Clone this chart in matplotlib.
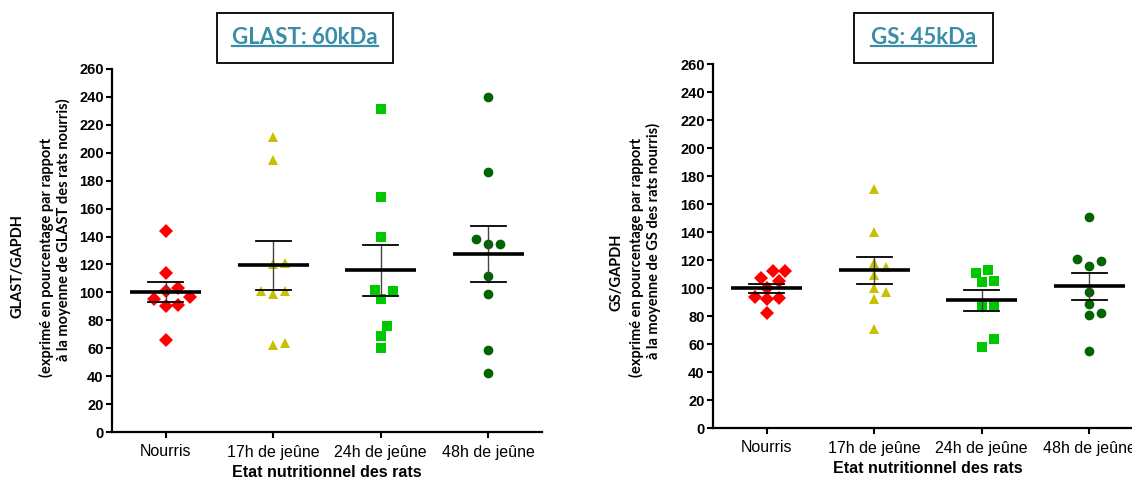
import numpy as np
import matplotlib
matplotlib.use("Agg")
import matplotlib.pyplot as plt
from matplotlib.lines import Line2D
from matplotlib.patches import Rectangle

# ---------------- data ----------------
categories = ["Nourris", "17h de jeûne", "24h de jeûne", "48h de jeûne"]

glast_nourris = [144, 114, 103, 101, 97, 95, 91, 90, 66]
glast_17h = [211, 195, 120, 121, 101, 99, 101, 62, 64]
glast_24h = [231, 168, 140, 102, 101, 95, 76, 69, 60]
glast_48h = [240, 186, 138, 135, 135, 112, 99, 59, 42]

gs_nourris = [112.5, 112, 107, 105, 100, 93, 92, 93.5, 82]
gs_17h = [171, 140, 118, 115, 109, 97, 100, 92, 71]
gs_24h = [111, 113, 104, 105, 87.5, 87.5, 63.5, 58]
gs_48h = [151, 119, 116, 121, 97, 82.5, 81, 88.5, 55]

yticks = list(range(0, 261, 20))

titles = ["GLAST: 60kDa", "GS: 45kDa"]
ylabel_main = ["GLAST/GAPDH", "GS/GAPDH"]
ylabel_line2 = "(exprimé en pourcentage par rapport"
ylabel_line3 = ["à la moyenne de GLAST des rats nourris)",
                "à la moyenne de GS des rats nourris)"]
xlabel = "Etat nutritionnel des rats"

# ---------------- style ----------------
colors = ["#FF0000", "#C8C000", "#00C800", "#006400"]
markers = ["D", "^", "s", "o"]
msizes = [7.4, 7.8, 6.8, 7.0]
title_color = "#3A8DA6"

W, H = 1132, 480
fig = plt.figure(figsize=(W / 100, H / 100), dpi=100)


def fx(px):
    return px / W


def fy(py):
    return 1 - py / H


def swarm(vals, px_per_x, px_per_y, diam=10.5, step=6.0):
    vals = np.asarray(vals, float)
    order = np.argsort(vals)
    placed = []
    offs = np.zeros(len(vals))
    cands = [0]
    for k in range(1, 12):
        cands += [k, -k]
    for idx in order:
        y = vals[idx] * px_per_y
        for k in cands:
            x = k * step
            if all((x - a) ** 2 + (y - b) ** 2 >= diam ** 2 for a, b in placed):
                break
        placed.append((x, y))
        offs[idx] = x / px_per_x
    return offs


def panel(rect_px, groups):
    x0, ytop, x1, ybot = rect_px
    ax = fig.add_axes([fx(x0), fy(ybot), fx(x1 - x0), (ybot - ytop) / H])
    ax.set_xlim(-0.5, 3.5)
    ax.set_ylim(0, 260)
    ppx = (x1 - x0) / 4.0
    ppy = (ybot - ytop) / 260.0
    for i, vals in enumerate(groups):
        v = np.asarray(vals, float)
        offs = swarm(v, ppx, ppy)
        ax.plot(i + offs, v, ls="none", marker=markers[i], color=colors[i],
                ms=msizes[i], mec=colors[i], mew=0, zorder=2, clip_on=False)
        m = v.mean()
        sem = v.std(ddof=1) / np.sqrt(len(v))
        ax.plot([i, i], [m - sem, m + sem], color="#444444", lw=1.0, zorder=3)
        for yy in (m - sem, m + sem):
            ax.plot([i - 0.165, i + 0.165], [yy, yy], color="black", lw=1.3, zorder=3)
        ax.plot([i - 0.33, i + 0.33], [m, m], color="black", lw=2.6, zorder=4,
                solid_capstyle="butt")
    for s in ("top", "right"):
        ax.spines[s].set_visible(False)
    for s in ("left", "bottom"):
        ax.spines[s].set_linewidth(1.6)
    ax.set_yticks(yticks)
    ax.set_yticklabels([str(t) for t in yticks], fontfamily="Liberation Sans",
                       fontweight="bold", fontsize=10.5)
    ax.set_xticks(range(len(categories)))
    ax.set_xticklabels(categories, fontfamily="Liberation Sans", fontsize=11.5)
    ax.tick_params(axis="both", direction="out", length=4, width=1.5, pad=2)
    ax.tick_params(axis="x", pad=5)
    ax.set_xlabel(xlabel, fontfamily="Liberation Sans", fontweight="bold",
                  fontsize=11.5, labelpad=4)
    return ax


ax1 = panel((112, 69, 542, 432), [glast_nourris, glast_17h, glast_24h, glast_48h])
ax2 = panel((713, 64, 1143, 428), [gs_nourris, gs_17h, gs_24h, gs_48h])

# y labels (three lines each)
ylab_pos = [
    [(18, 266), (46, 257), (63, 230)],
    [(617, 272), (636, 257), (653, 241)],
]
for p in range(2):
    texts = [ylabel_main[p], ylabel_line2, ylabel_line3[p]]
    for (px, py), t in zip(ylab_pos[p], texts):
        fig.text(fx(px), fy(py), t, rotation=90, ha="center", va="center",
                 fontfamily="Lato", fontweight="bold", fontsize=10.5)

# titles with boxes and underline
title_boxes = [(217, 13, 393, 63), (854, 13, 993, 63)]
fig.canvas.draw()
renderer = fig.canvas.get_renderer()
for t, (bx0, by0, bx1, by1) in zip(titles, title_boxes):
    cx = (bx0 + bx1) / 2
    cy = (by0 + by1) / 2
    fig.patches.append(Rectangle((fx(bx0), fy(by1)), fx(bx1 - bx0), (by1 - by0) / H,
                                 transform=fig.transFigure, fill=False,
                                 edgecolor="black", lw=1.3))
    txt = fig.text(fx(cx), fy(cy - 1), t, ha="center", va="center",
                   fontfamily="Lato", fontweight="bold", fontsize=16,
                   color=title_color)
    bb = txt.get_window_extent(renderer)
    uy = (bb.y0 + 2) / H
    fig.lines.append(Line2D([bb.x0 / W, bb.x1 / W], [uy, uy], transform=fig.transFigure,
                            color=title_color, lw=1.6))

fig.savefig("out.png", dpi=100)
